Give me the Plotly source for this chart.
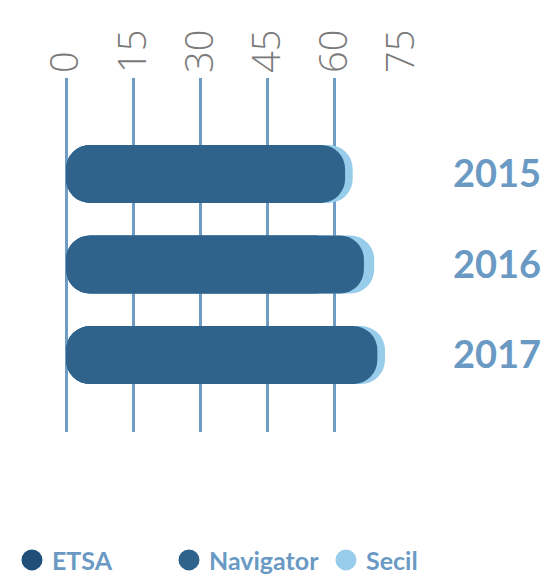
import plotly.graph_objects as go

# values
years = ["2015", "2016", "2017"]
series = ["ETSA", "Navigator", "Secil"]
etsa = [58.0, 61.0, 64.0]
navigator = [62.3, 66.5, 69.5]
secil = [64.0, 68.8, 71.2]
x_ticks = [0, 15, 30, 45, 60, 75]

colors = {"ETSA": "#1f4e78", "Navigator": "#2f638c", "Secil": "#97cdea"}
label_blue = "#6a9ac4"

fig = go.Figure()

# an explicit base makes plotly round both ends of the bar
for name, vals in [("Secil", secil), ("ETSA", etsa), ("Navigator", navigator)]:
    fig.add_trace(go.Bar(y=years, x=vals, base=[0] * len(vals), orientation="h",
                         marker=dict(color=colors[name], line=dict(width=0)),
                         width=0.64, showlegend=False, name=name))

# legend entries (circles)
for name in series:
    fig.add_trace(go.Scatter(x=[None], y=[None], mode="markers", name=name,
                             marker=dict(symbol="circle", size=16, color=colors[name],
                                         line=dict(width=5, color=colors[name]))))

# the page body adds an 8px margin, so the figure is 8px smaller than the window
# legend anchored right of the plot area so it gets the wide max width (no wrapping)
fig.update_layout(
    width=541, height=569,
    margin=dict(l=58, r=147, t=70, b=145, autoexpand=False),
    paper_bgcolor="white", plot_bgcolor="white",
    barmode="overlay", barcornerradius=24,
    showlegend=True,
    legend=dict(orientation="h", x=1.241, xanchor="right", y=-0.362, yanchor="middle",
                font=dict(family="Lato", size=25, color=label_blue, weight="bold"),
                itemwidth=30, entrywidth=112, entrywidthmode="pixels",
                traceorder="normal"),
    xaxis=dict(range=[0, 75], side="top", tickvals=x_ticks, tickangle=-90,
               tickfont=dict(family="Open Sans", size=38, color="#7a7a7a", weight=300),
               ticklabelstandoff=4, showgrid=True, gridcolor="#6f9cc4", gridwidth=2.5,
               zeroline=True, zerolinecolor="#6f9cc4", zerolinewidth=2.5,
               showline=False, ticks="", fixedrange=True),
    yaxis=dict(type="category", range=[2.85, -1.06], side="right", showgrid=False,
               tickfont=dict(family="Lato", size=38, color=label_blue, weight="bold"),
               ticklabelstandoff=50, ticks="", zeroline=False, showline=False),
)

fig.write_html("out.html")
